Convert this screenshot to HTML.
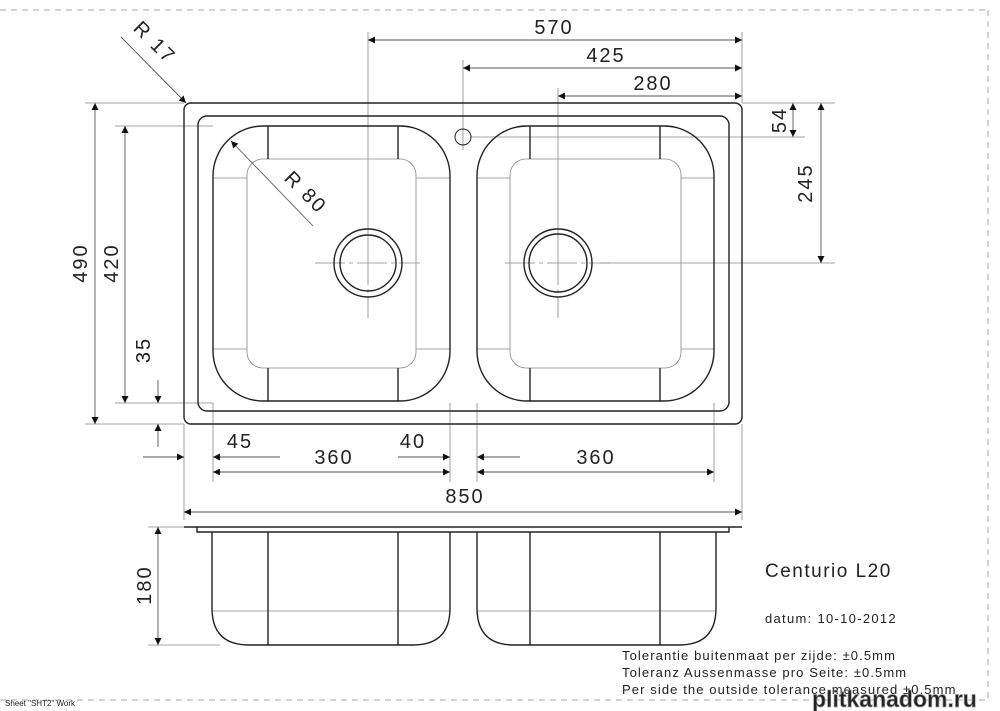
<!DOCTYPE html>
<html><head><meta charset="utf-8"><style>
html,body{margin:0;padding:0;background:#fff;}
svg{display:block;}
text{font-family:"Liberation Sans",Arial,sans-serif;fill:#222;}
</style></head><body>
<svg width="1000" height="711" viewBox="0 0 1000 711" xmlns="http://www.w3.org/2000/svg">
<defs>
<marker id="a" viewBox="0 0 10 10" refX="10" refY="5" markerWidth="14" markerHeight="7" markerUnits="userSpaceOnUse" orient="auto-start-reverse"><path d="M0,0 L10,5 L0,10 z" fill="#111"/></marker>
</defs>
<g stroke="#aaa" stroke-width="1" stroke-dasharray="6,5" fill="none">
<line x1="0" y1="10" x2="990" y2="10"/>
<line x1="988" y1="10" x2="988" y2="700"/>
<line x1="0" y1="700" x2="988" y2="700"/>
</g>
<g stroke="#888" stroke-width="0.8" fill="none">
<line x1="368" y1="32" x2="368" y2="255"/>
<line x1="463" y1="60" x2="463" y2="150"/>
<line x1="558" y1="88" x2="558" y2="255"/>
<line x1="742" y1="32" x2="742" y2="103"/>
<line x1="742" y1="103" x2="835" y2="103"/>
<line x1="470" y1="137" x2="805" y2="137"/>
<line x1="600" y1="263" x2="835" y2="263"/>
<line x1="85" y1="103" x2="184" y2="103"/>
<line x1="115" y1="126" x2="213" y2="126"/>
<line x1="115" y1="403" x2="213" y2="403"/>
<line x1="85" y1="424" x2="184" y2="424"/>
<line x1="184" y1="424" x2="184" y2="520"/>
<line x1="213" y1="403" x2="213" y2="482"/>
<line x1="450" y1="403" x2="450" y2="482"/>
<line x1="477" y1="403" x2="477" y2="482"/>
<line x1="714" y1="403" x2="714" y2="482"/>
<line x1="742" y1="424" x2="742" y2="520"/>
<line x1="148" y1="527" x2="184" y2="527"/>
<line x1="148" y1="645" x2="220" y2="645"/>
<line x1="315" y1="263" x2="420" y2="263" stroke-dasharray="30,4,4,4"/>
<line x1="505" y1="263" x2="610" y2="263" stroke-dasharray="30,4,4,4"/>
<line x1="368" y1="255" x2="368" y2="318" stroke-dasharray="30,4,4,4"/>
<line x1="558" y1="255" x2="558" y2="318" stroke-dasharray="30,4,4,4"/>
<rect x="247" y="159" width="169" height="209" rx="16"/>
<rect x="510" y="159" width="171" height="209" rx="16"/>
<line x1="213" y1="178" x2="247" y2="178"/><line x1="416" y1="178" x2="450" y2="178"/>
<line x1="213" y1="349" x2="247" y2="349"/><line x1="416" y1="349" x2="450" y2="349"/>
<line x1="477" y1="178" x2="510" y2="178"/><line x1="681" y1="178" x2="714" y2="178"/>
<line x1="477" y1="349" x2="510" y2="349"/><line x1="681" y1="349" x2="714" y2="349"/>
<line x1="212" y1="611" x2="450" y2="611"/><line x1="477" y1="611" x2="716" y2="611"/>
</g>
<g stroke="#222" stroke-width="1.4" fill="none">
<rect x="184" y="103" width="558" height="321" rx="7"/>
<rect x="198" y="116" width="531" height="295" rx="9"/>
<rect x="213" y="126" width="237" height="275" rx="50"/>
<rect x="477" y="126" width="237" height="275" rx="50"/>
<line x1="268" y1="126" x2="268" y2="159"/><line x1="398" y1="126" x2="398" y2="159"/>
<line x1="268" y1="368" x2="268" y2="401"/><line x1="398" y1="368" x2="398" y2="401"/>
<line x1="530" y1="126" x2="530" y2="159"/><line x1="660" y1="126" x2="660" y2="159"/>
<line x1="530" y1="368" x2="530" y2="401"/><line x1="660" y1="368" x2="660" y2="401"/>
<circle cx="368" cy="263" r="34"/><circle cx="368" cy="263" r="28"/>
<circle cx="558" cy="263" r="34"/><circle cx="558" cy="263" r="29"/>
<circle cx="463" cy="137" r="8" stroke-width="1"/>
<line x1="184" y1="527" x2="742" y2="527"/>
<path d="M197,527 V532 H729 V527"/>
<path d="M212,532 V608 Q212,645 249,645 H413 Q450,645 450,608 V532"/>
<path d="M477,532 V608 Q477,645 514,645 H679 Q716,645 716,608 V532"/>
<line x1="268" y1="532" x2="268" y2="645"/><line x1="398" y1="532" x2="398" y2="645"/>
<line x1="530" y1="532" x2="530" y2="645"/><line x1="660" y1="532" x2="660" y2="645"/>
</g>
<g stroke="#555" stroke-width="0.9" fill="none">
<line x1="368" y1="40" x2="742" y2="40" marker-start="url(#a)" marker-end="url(#a)"/>
<line x1="463" y1="68" x2="742" y2="68" marker-start="url(#a)" marker-end="url(#a)"/>
<line x1="558" y1="96" x2="742" y2="96" marker-start="url(#a)" marker-end="url(#a)"/>
<line x1="793" y1="103" x2="793" y2="137" marker-start="url(#a)" marker-end="url(#a)"/>
<line x1="821" y1="103" x2="821" y2="263" marker-start="url(#a)" marker-end="url(#a)"/>
<line x1="95" y1="103" x2="95" y2="424" marker-start="url(#a)" marker-end="url(#a)"/>
<line x1="125" y1="126" x2="125" y2="403" marker-start="url(#a)" marker-end="url(#a)"/>
<line x1="158" y1="380" x2="158" y2="403" marker-end="url(#a)"/>
<line x1="158" y1="447" x2="158" y2="424" marker-end="url(#a)"/>
<line x1="143" y1="457" x2="184" y2="457" marker-end="url(#a)"/>
<line x1="280" y1="457" x2="213" y2="457" marker-end="url(#a)"/>
<line x1="398" y1="457" x2="450" y2="457" marker-end="url(#a)"/>
<line x1="520" y1="457" x2="477" y2="457" marker-end="url(#a)"/>
<line x1="213" y1="472" x2="450" y2="472" marker-start="url(#a)" marker-end="url(#a)"/>
<line x1="477" y1="472" x2="714" y2="472" marker-start="url(#a)" marker-end="url(#a)"/>
<line x1="184" y1="512" x2="742" y2="512" marker-start="url(#a)" marker-end="url(#a)"/>
<line x1="158" y1="527" x2="158" y2="645" marker-start="url(#a)" marker-end="url(#a)"/>
<line x1="121" y1="37" x2="186" y2="103" marker-end="url(#a)"/>
<line x1="231" y1="141" x2="313" y2="226" marker-start="url(#a)"/>
</g>
<g font-size="20" letter-spacing="2">
<text x="554" y="34" text-anchor="middle">570</text>
<text x="606" y="62" text-anchor="middle">425</text>
<text x="653" y="90" text-anchor="middle">280</text>
<text x="334" y="464" text-anchor="middle">360</text>
<text x="596" y="464" text-anchor="middle">360</text>
<text x="465" y="503" text-anchor="middle">850</text>
<text x="240" y="448" text-anchor="middle">45</text>
<text x="413" y="448" text-anchor="middle">40</text>
<text transform="translate(786,120) rotate(-90)" text-anchor="middle">54</text>
<text transform="translate(812,183) rotate(-90)" text-anchor="middle">245</text>
<text transform="translate(87,263) rotate(-90)" text-anchor="middle">490</text>
<text transform="translate(118,263) rotate(-90)" text-anchor="middle">420</text>
<text transform="translate(150,350) rotate(-90)" text-anchor="middle">35</text>
<text transform="translate(151,585) rotate(-90)" text-anchor="middle">180</text>
<text transform="translate(150,47) rotate(45)" text-anchor="middle">R 17</text>
<text transform="translate(301,197) rotate(45)" text-anchor="middle">R 80</text>
</g>
<text x="765" y="577" font-size="19" letter-spacing="1.5">Centurio L20</text>
<text x="765" y="623" font-size="13" letter-spacing="1.3">datum: 10-10-2012</text>
<text x="622" y="660" font-size="13" letter-spacing="1.1">Tolerantie buitenmaat per zijde: ±0.5mm</text>
<text x="622" y="677" font-size="13" letter-spacing="1.1">Toleranz Aussenmasse pro Seite: ±0.5mm</text>
<text x="622" y="694" font-size="13" letter-spacing="1.1">Per side the outside tolerance measured ±0.5mm</text>
<text x="5" y="706" font-size="8" fill="#666">Sheet "SHT2" Work</text>
<text x="812" y="707" font-size="23" font-weight="bold" fill="#e8e8e8" stroke="#999" stroke-width="0.7">plitkanadom.ru</text>
</svg>
</body></html>
